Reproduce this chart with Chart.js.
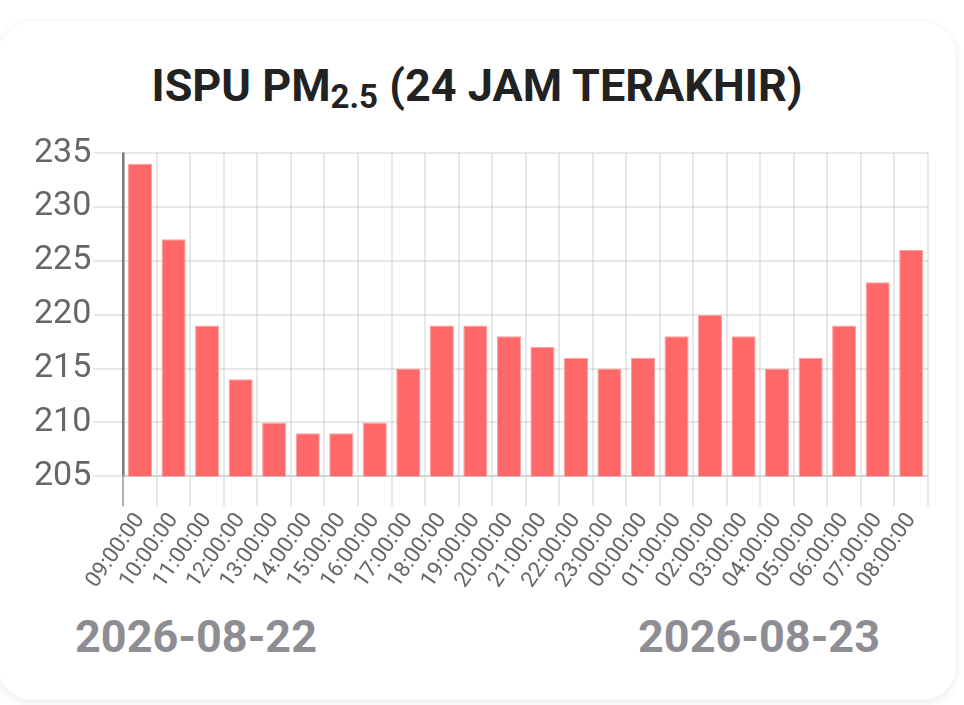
<!DOCTYPE html>
<html>
<head>
<meta charset="utf-8">
<script src="https://cdn.jsdelivr.net/npm/chart.js@4.4.1/dist/chart.umd.min.js"></script>
<style>
  html, body { margin: 0; padding: 0; background: #fff; }
  body { width: 964px; height: 705px; position: relative; overflow: hidden; font-family: Roboto, sans-serif; }
  .card {
    position: absolute; left: -2px; top: 22px; width: 958px; height: 678px;
    background: #fff; border-radius: 34px;
    box-shadow: 0 2px 10px rgba(0,0,0,0.09);
  }
  .judul {
    position: absolute; left: 0; top: 63px; width: 954px; margin: 0;
    text-align: center; font-size: 45px; line-height: 1; font-weight: 700; color: #222;
  }
  .judul sub { font-size: 33px; vertical-align: -7px; line-height: 0; }
  .tanggal {
    position: absolute; top: 614px; font-size: 45px; line-height: 1; font-weight: 700; color: #8e8d94;
  }
  #wrap { position: absolute; left: 0; top: 100px; width: 964px; height: 500px; }
</style>
</head>
<body>
<div class="card"></div>
<h1 class="judul">ISPU PM<sub>2.5</sub> (24 JAM TERAKHIR)</h1>
<div id="wrap"><canvas id="grafikIspu"></canvas></div>
<div class="tanggal" style="left:75px">2026-08-22</div>
<div class="tanggal" style="left:638px">2026-08-23</div>
<script>
// Data ISPU per jam (24 jam terakhir)
const jam = ['09:00:00', '10:00:00', '11:00:00', '12:00:00', '13:00:00', '14:00:00', '15:00:00', '16:00:00',
    '17:00:00', '18:00:00', '19:00:00', '20:00:00', '21:00:00', '22:00:00', '23:00:00', '00:00:00',
    '01:00:00', '02:00:00', '03:00:00', '04:00:00', '05:00:00', '06:00:00', '07:00:00', '08:00:00'];
const nilaiIspu = [234, 227, 219, 214, 210, 209, 209, 210, 215, 219, 219, 218,
    217, 216, 215, 216, 218, 220, 218, 215, 216, 219, 223, 226];
const sumbuYMin = 205;
const sumbuYMax = 235;
const langkahY = 5;

function buatGrafik(chartId, labels, values) {
    const ctx = document.getElementById(chartId).getContext('2d');
    return new Chart(ctx, {
        type: 'bar',
        data: {
            labels: labels,
            datasets: [
                {
                    label: 'ISPU PM2.5',
                    data: values,
                    backgroundColor: '#ff6868',
                    borderColor: '#ffa0a0',
                    borderWidth: 1,
                }
            ]
        },
        options: {
            responsive: true,
            maintainAspectRatio: false,
            animation: false,
            layout: { padding: { left: 32, right: 36, top: 53, bottom: 5 } },
            plugins: {
                legend: { display: false },
                tooltip: { enabled: false }
            },
            scales: {
                x: {
                    grid: {
                        offset: true,
                        lineWidth: 2,
                        tickLength: 30,
                        color: (c) => c.index === 0 ? 'rgba(0,0,0,0.3)' : 'rgba(0,0,0,0.09)'
                    },
                    border: { color: 'rgba(0,0,0,0.09)', width: 2 },
                    ticks: {
                        color: '#666',
                        font: { family: 'Roboto', size: 22 },
                        minRotation: 55,
                        maxRotation: 55,
                        autoSkip: false,
                        padding: 2
                    }
                },
                y: {
                    min: sumbuYMin,
                    max: sumbuYMax,
                    grid: { lineWidth: 2, tickLength: 30, color: 'rgba(0,0,0,0.09)' },
                    border: { color: 'rgba(0,0,0,0.3)', width: 3 },
                    ticks: {
                        stepSize: langkahY,
                        color: '#666',
                        font: { family: 'Roboto', size: 34 },
                        padding: 2
                    }
                }
            }
        }
    });
}

const grafik = buatGrafik('grafikIspu', jam, nilaiIspu);
</script>
</body>
</html>
